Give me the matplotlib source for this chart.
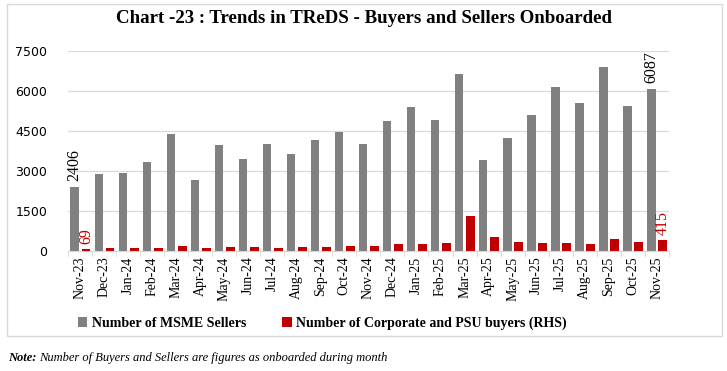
import matplotlib

matplotlib.use('Agg')
import matplotlib.pyplot as plt
import numpy as np
from matplotlib.patches import Rectangle

plt.rcParams['font.family'] = ['Liberation Serif', 'DejaVu Serif']

# 月份
months = ['Nov-23', 'Dec-23', 'Jan-24', 'Feb-24', 'Mar-24', 'Apr-24', 'May-24',
          'Jun-24', 'Jul-24', 'Aug-24', 'Sep-24', 'Oct-24', 'Nov-24', 'Dec-24',
          'Jan-25', 'Feb-25', 'Mar-25', 'Apr-25', 'May-25', 'Jun-25', 'Jul-25',
          'Aug-25', 'Sep-25', 'Oct-25', 'Nov-25']

# MSME 卖方数量
msme_sellers = [2406, 2875, 2940, 3325, 4400, 2665, 3975, 3460, 4025, 3640,
                4150, 4475, 4010, 4860, 5400, 4910, 6625, 3410, 4240, 5110,
                6140, 5540, 6890, 5450, 6087]

# 企业及 PSU 买方数量 (右轴)
corp_buyers = [69, 112, 112, 112, 187, 112, 150, 150, 112, 150,
               150, 187, 187, 262, 262, 300, 1312, 525, 337, 300,
               300, 262, 450, 337, 415]

yticks = [0, 1500, 3000, 4500, 6000, 7500]

grey = '#808080'
red = '#c00000'

fig = plt.figure(figsize=(7.27, 3.71), dpi=100)
ax = fig.add_axes([0.0935, 0.3235, 0.8265, 0.539])
ax2 = ax.twinx()

x = np.arange(len(months))
ax.bar(x - 0.22, msme_sellers, width=0.35, color=grey, zorder=3,
       label='Number of MSME Sellers')
ax2.bar(x + 0.25, corp_buyers, width=0.37, color=red, zorder=3,
        label='Number of Corporate and PSU buyers (RHS)')

ax.set_ylim(0, 7500)
ax2.set_ylim(0, 7500)
ax.set_xlim(-0.5, len(months) - 0.5)
ax.set_yticks(yticks)
ax.set_yticklabels([str(v) for v in yticks], family='DejaVu Sans', fontsize=9)
ax.yaxis.grid(True, color='#d9d9d9', linewidth=0.9, zorder=0)
ax.tick_params(axis='y', length=0, pad=15)
ax2.set_yticks([])

ax.set_xticks(x)
ax.set_xticklabels(months, rotation=90, fontsize=10)
ax.set_xticks(np.arange(-0.5, len(months)), minor=True)
ax.tick_params(axis='x', which='major', length=0, pad=4)
ax.tick_params(axis='x', which='minor', length=4, color='#d9d9d9')

for a in (ax, ax2):
    for s in ('top', 'right', 'left'):
        a.spines[s].set_visible(False)
    a.spines['bottom'].set_color('#d9d9d9')

# 数据标签
ax.text(x[0] - 0.22, msme_sellers[0] + 200, str(msme_sellers[0]), rotation=90,
        ha='center', va='bottom', fontsize=11.5)
ax.text(x[-1] - 0.22, msme_sellers[-1] + 200, str(msme_sellers[-1]), rotation=90,
        ha='center', va='bottom', fontsize=11.5)
ax2.text(x[0] + 0.25, corp_buyers[0] + 200, str(corp_buyers[0]), rotation=90,
         ha='center', va='bottom', fontsize=11.5, color=red)
ax2.text(x[-1] + 0.25, corp_buyers[-1] + 200, str(corp_buyers[-1]), rotation=90,
         ha='center', va='bottom', fontsize=11.5, color=red)

h1, l1 = ax.get_legend_handles_labels()
h2, l2 = ax2.get_legend_handles_labels()
fig.legend(h1 + h2, l1 + l2, loc='center', bbox_to_anchor=(0.443, 0.129), ncol=2,
           frameon=False, prop={'weight': 'bold', 'size': 10},
           handlelength=0.7, handleheight=0.7, handletextpad=0.3, columnspacing=2.6)

fig.text(0.5, 0.951, 'Chart -23 : Trends in TReDS - Buyers and Sellers Onboarded',
         ha='center', va='center', fontsize=13.6, weight='bold')

fig.text(0.011, 0.035, 'Note:', style='italic', weight='bold', fontsize=9,
         ha='left', va='center')
fig.text(0.054, 0.035, 'Number of Buyers and Sellers are figures as onboarded during month',
         style='italic', fontsize=9, ha='left', va='center')

# 外框
fig.patches.append(Rectangle((0.0096, 0.094), 0.984, 0.895, transform=fig.transFigure,
                             fill=False, edgecolor='#d9d9d9', linewidth=1))

plt.savefig('out.png', dpi=100)
